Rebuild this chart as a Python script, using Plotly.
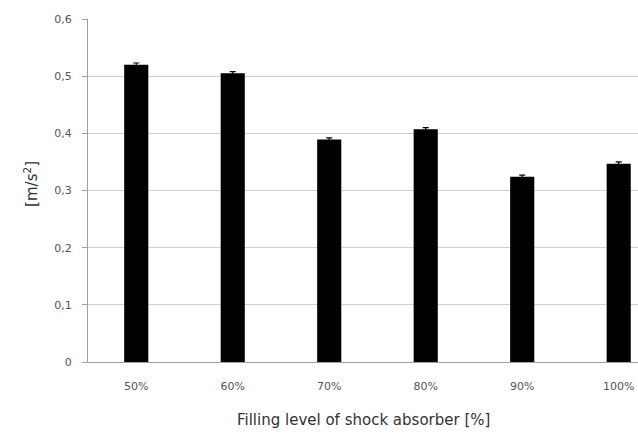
import plotly.graph_objects as go

# Filling level categories and measured RMS acceleration
categories = ["50%", "60%", "70%", "80%", "90%", "100%"]
acceleration = [0.520, 0.505, 0.389, 0.407, 0.324, 0.347]
error = [0.003, 0.003, 0.003, 0.003, 0.003, 0.003]

y_tick_values = [0, 0.1, 0.2, 0.3, 0.4, 0.5, 0.6]
y_tick_labels = ["0", "0,1", "0,2", "0,3", "0,4", "0,5", "0,6"]

font_family = "DejaVu Sans, Verdana, sans-serif"

fig = go.Figure()
fig.add_trace(go.Bar(
    x=list(range(len(categories))),
    y=acceleration,
    width=0.25,
    marker=dict(color="black", line=dict(width=0)),
    error_y=dict(type="data", array=error, visible=True,
                 color="black", thickness=1.2, width=3),
))

fig.update_layout(
    width=638, height=435,
    margin=dict(l=88, r=0, t=19, b=73),
    plot_bgcolor="white", paper_bgcolor="white",
    showlegend=False,
    font=dict(family=font_family, color="#404040"),
    xaxis=dict(
        range=[-0.5, 5.2],
        tickvals=list(range(len(categories))),
        ticktext=categories,
        tickfont=dict(size=11, color="#555555"),
        showgrid=False,
        showline=True, linecolor="#a0a0a0", linewidth=1,
        ticks="", ticklabelstandoff=14,
        zeroline=False,
    ),
    yaxis=dict(
        range=[0, 0.6],
        tickvals=y_tick_values,
        ticktext=y_tick_labels,
        tickfont=dict(size=11, color="#555555"),
        showgrid=True, gridcolor="#cfcfcf", gridwidth=1,
        showline=True, linecolor="#a0a0a0", linewidth=1,
        ticks="outside", ticklen=5, tickcolor="#a0a0a0",
        ticklabelstandoff=8,
        zeroline=False,
    ),
    annotations=[
        dict(
            text="Filling level of shock absorber [%]",
            xref="paper", yref="paper", x=0.5, y=-0.169,
            xanchor="center", yanchor="middle", showarrow=False,
            font=dict(size=15, color="#333333", family=font_family),
        ),
        dict(
            text="[m/s<sup>2</sup>]",
            xref="paper", yref="paper", x=-0.105, y=0.52,
            xanchor="center", yanchor="middle", showarrow=False,
            textangle=-90,
            font=dict(size=15, color="#333333", family=font_family),
        ),
    ],
)

fig.write_html("out.html")
